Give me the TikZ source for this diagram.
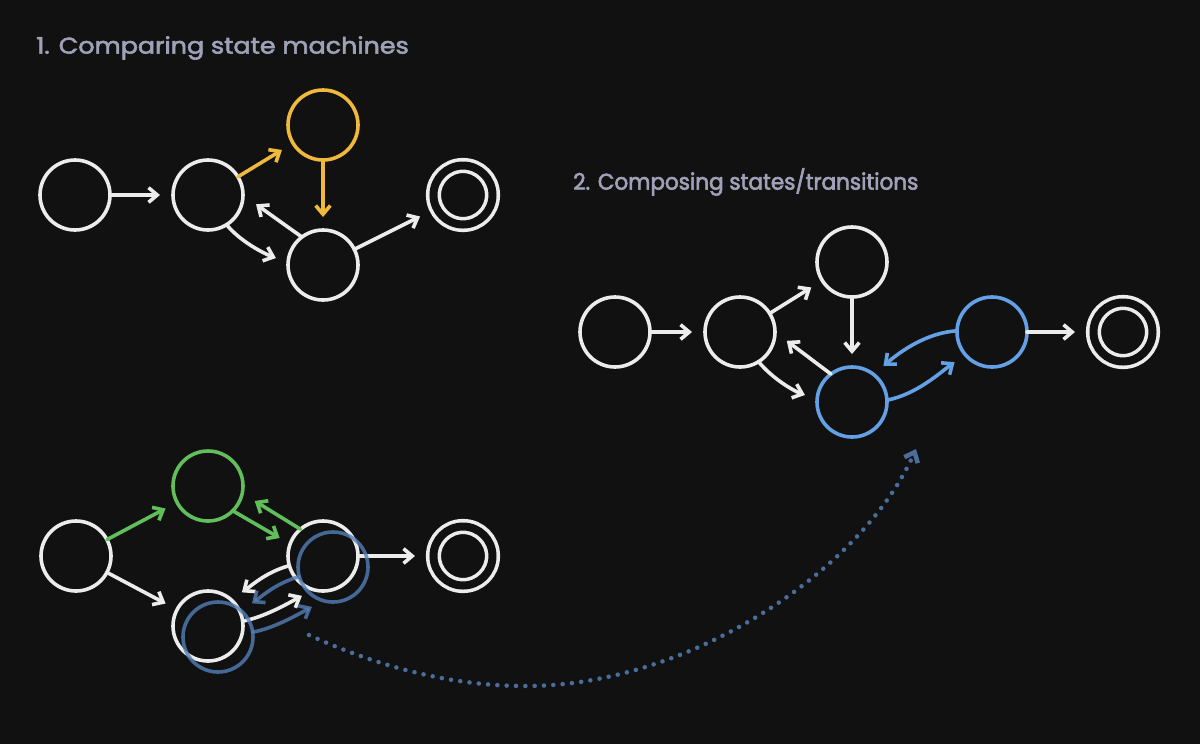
\documentclass[tikz,border=0pt]{standalone}
\usepackage{fontspec}
\setmainfont{Poppins}
\newfontfamily\tfa[FakeStretch=1.12, FakeBold=2.6]{Poppins}
\newfontfamily\tfb[FakeStretch=0.95, FakeBold=2.6]{Poppins}
\usetikzlibrary{arrows.meta}
\definecolor{bgc}{RGB}{17,17,17}
\definecolor{wc}{RGB}{236,236,236}
\definecolor{yc}{RGB}{240,185,60}
\definecolor{gc}{RGB}{98,190,90}
\definecolor{bc}{RGB}{100,160,230}
\definecolor{shc}{RGB}{82,126,182}
\definecolor{dotc}{RGB}{74,110,155}
\definecolor{tc}{RGB}{160,160,184}
\tikzset{
  st/.style={circle, draw=wc, line width=2.7pt, minimum size=52.5pt, inner sep=0pt, outer sep=0pt},
  fin/.style={circle, draw=wc, double=bgc, double distance=6pt, line width=2.7pt, minimum size=44.25pt, inner sep=0pt, outer sep=0pt},
  shadow/.style={st, draw=shc, draw opacity=0.8},
  arr/.style={draw=wc, line width=2.7pt, line cap=round, -{Straight Barb[length=6.5pt,width=11pt]}},
  sarr/.style={arr, draw=shc, draw opacity=0.8},
  gap/.style={shorten >=9.75pt},
  fgap/.style={shorten >=13.9pt},
  dotarr/.style={draw=dotc, line width=3.4pt, line cap=round, dash pattern=on 0pt off 7pt, -{Straight Barb[length=6.5pt,width=11pt]}},
  title/.style={text=tc, inner sep=0pt, anchor=west}
}
\begin{document}
\begin{tikzpicture}[x=0.75pt,y=-0.75pt]
\fill[bgc] (0,0) rectangle (1200,744);
\useasboundingbox (0,0) rectangle (1200,744);

% titles
\node[title, font=\tfa\fontsize{17}{20}\selectfont] (t1) at (36,48) {1. Comparing state machines};
\node[title, font=\tfb\fontsize{17}{20}\selectfont] (t2) at (573,182) {2. Composing states/transitions};

% diagram 1
\node[st] (a1) at (75,195) {};
\node[st] (b1) at (208,195) {};
\node[st, draw=yc] (c1) at (323,125) {};
\node[st] (d1) at (323,265) {};
\node[fin] (e1) at (463,195) {};
\draw[arr, gap] (a1) -- (b1);
\draw[arr, gap, draw=yc] (b1) -- (c1);
\draw[arr, gap, draw=yc] (c1) -- (d1);
\draw[arr, fgap] (d1) -- (e1);
\draw[arr, shorten >=12pt] (d1.127) -- (b1.0);
\draw[arr, gap] (b1.-58) .. controls +(14,17) and +(-24,-9) .. (d1.176);

% diagram 2
\node[st] (a2) at (615,332) {};
\node[st] (b2) at (740,332) {};
\node[st] (c2) at (852,262) {};
\node[st, draw=bc] (d2) at (852,402) {};
\node[st, draw=bc] (e2) at (992,332) {};
\node[fin] (f2) at (1123,332) {};
\draw[arr, gap] (a2) -- (b2);
\draw[arr, gap] (b2) -- (c2);
\draw[arr, gap] (c2) -- (d2);
\draw[arr, shorten >=11pt] (d2.127) -- (b2.0);
\draw[arr, gap] (b2.-58) .. controls +(14,17) and +(-24,-9) .. (d2.176);
\draw[arr, gap, draw=bc] (e2.178) .. controls +(-30,2) and +(28,-24) .. (d2.52);
\draw[arr, gap, draw=bc] (d2.3) .. controls +(30,-6) and +(-25,18) .. (e2.-140);
\draw[arr, fgap] (e2) -- (f2);

% diagram 3
\node[st] (a3) at (76,556) {};
\node[st, draw=gc] (g3) at (208,486) {};
\node[st] (h3) at (323,556) {};
\node[fin] (f3) at (463,556) {};
\node[st] (l3) at (208,626) {};
\draw[arr, gap, draw=gc] (a3) -- (g3);
\draw[arr, shorten >=9pt, draw=gc] (g3.-45) -- (h3.160);
\draw[arr, shorten >=11pt, draw=gc] (h3.130) -- (g3.-12);
\draw[arr, fgap] (h3) -- (f3);
\draw[arr, gap] (a3) -- (l3);
\draw[arr, gap] (h3.196) .. controls +(-22,6) and +(22,-16) .. (l3.48);
\draw[arr, gap] (l3.8) .. controls +(22,-4) and +(-24,13) .. (h3.-106);
\node[shadow] (s1) at (333,567) {};
\node[shadow] (s2) at (218,637) {};
\draw[sarr, gap] (s1.196) .. controls +(-22,6) and +(22,-16) .. (s2.48);
\draw[sarr, gap] (s2.8) .. controls +(22,-4) and +(-24,13) .. (s1.-106);

% dotted connector
\coordinate (ds) at (309,635);
\coordinate (db) at (526,686);
\coordinate (de) at (916,449);
\draw[dotarr] (ds) .. controls (379,667) and (451,686) .. (db) .. controls (690,686) and (862,570) .. (de);
\end{tikzpicture}
\end{document}
